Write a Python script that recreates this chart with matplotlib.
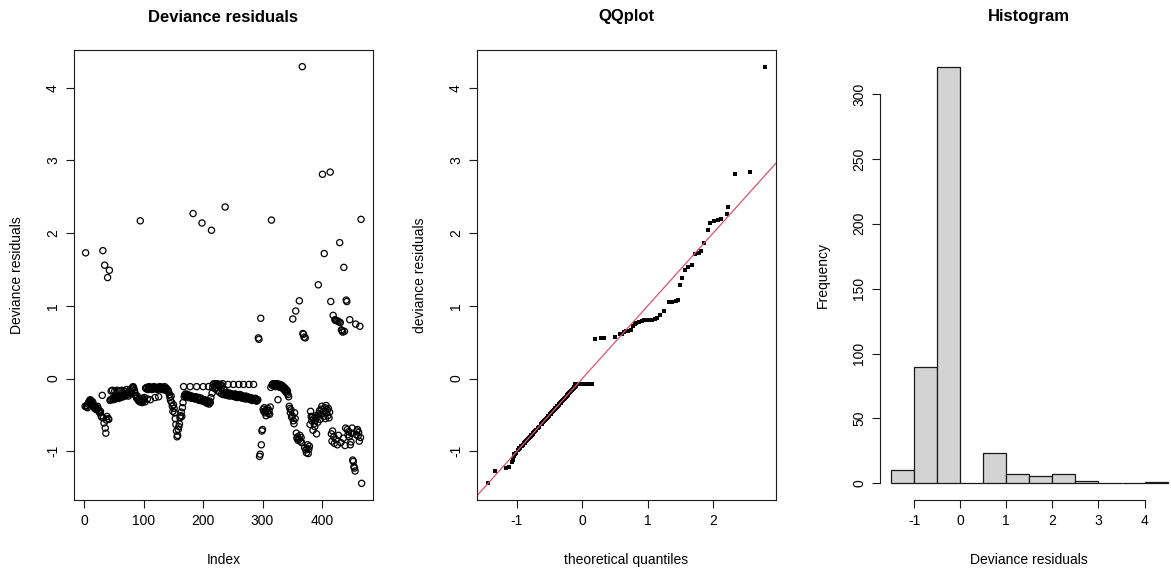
import numpy as np
import matplotlib
matplotlib.use("Agg")
import matplotlib.pyplot as plt

plt.rcParams["font.family"] = ["Liberation Sans", "DejaVu Sans"]
plt.rcParams["axes.unicode_minus"] = False

resid = np.array([
    -0.38, 1.73, -0.39, -0.37, -0.40, -0.35, -0.33, -0.31, -0.30, -0.29,
    -0.31, -0.33, -0.35, -0.32, -0.37, -0.39, -0.41, -0.38, -0.42, -0.40,
    -0.43, -0.38, -0.41, -0.44, -0.46, -0.47, -0.45, -0.51, -0.53, -0.23,
    1.76, -0.54, -0.61, 1.56, -0.68, -0.75, -0.57, -0.52, 1.39, -0.55,
    -0.56, 1.49, -0.30, -0.29, -0.17, -0.28, -0.16, -0.27, -0.29, -0.26,
    -0.17, -0.28, -0.25, -0.27, -0.16, -0.26, -0.24, -0.27, -0.17, -0.25,
    -0.26, -0.24, -0.16, -0.23, -0.25, -0.22, -0.17, -0.24, -0.21, -0.23,
    -0.15, -0.22, -0.20, -0.24, -0.19, -0.21, -0.15, -0.18, -0.20, -0.14,
    -0.12, -0.11, -0.13, -0.16, -0.19, -0.23, -0.25, -0.27, -0.24, -0.29,
    -0.30, -0.28, -0.32, 2.17, -0.31, -0.30, -0.33, -0.27, -0.31, -0.29,
    -0.26, -0.32, -0.13, -0.14, -0.12, -0.28, -0.15, -0.13, -0.11, -0.14,
    -0.29, -0.12, -0.13, -0.15, -0.12, -0.14, -0.11, -0.13, -0.26, -0.12,
    -0.14, -0.13, -0.15, -0.12, -0.25, -0.13, -0.11, -0.14, -0.12, -0.13,
    -0.15, -0.12, -0.14, -0.13, -0.11, -0.16, -0.14, -0.13, -0.15, -0.17,
    -0.16, -0.19, -0.22, -0.26, -0.30, -0.24, -0.33, -0.38, -0.45, -0.36,
    -0.41, -0.47, -0.55, -0.63, -0.72, -0.80, -0.78, -0.70, -0.66, -0.62,
    -0.54, -0.51, -0.46, -0.52, -0.40, -0.33, -0.11, -0.25, -0.22, -0.24,
    -0.21, -0.23, -0.25, -0.22, -0.26, -0.24, -0.23, -0.11, -0.25, -0.27,
    -0.24, -0.26, 2.27, -0.25, -0.27, -0.28, -0.26, -0.25, -0.11, -0.27,
    -0.29, -0.28, -0.26, -0.30, -0.28, -0.29, -0.27, 2.14, -0.31, -0.11,
    -0.30, -0.29, -0.32, -0.31, -0.33, -0.30, -0.34, -0.32, -0.11, -0.35,
    -0.31, -0.33, -0.26, 2.04, -0.20, -0.12, -0.08, -0.07, -0.10, -0.14,
    -0.07, -0.09, -0.12, -0.07, -0.17, -0.08, -0.11, -0.19, -0.08, -0.13,
    -0.21, -0.10, -0.07, -0.22, -0.15, -0.20, 2.36, -0.21, -0.23, -0.19,
    -0.22, -0.08, -0.21, -0.24, -0.20, -0.22, -0.23, -0.21, -0.24, -0.22,
    -0.08, -0.23, -0.25, -0.21, -0.24, -0.22, -0.26, -0.23, -0.25, -0.08,
    -0.24, -0.22, -0.26, -0.25, -0.23, -0.27, -0.24, -0.08, -0.26, -0.25,
    -0.28, -0.24, -0.27, -0.26, -0.25, -0.28, -0.08, -0.27, -0.29, -0.26,
    -0.28, -0.27, -0.30, -0.29, -0.08, -0.28, -0.30, -0.27, -0.29, -0.31,
    -0.30, -0.29, 0.56, 0.54, -1.07, -1.04, 0.83, -0.91, -0.72, -0.70,
    -0.42, -0.45, -0.40, -0.47, -0.44, -0.51, -0.43, -0.46, -0.41, -0.48,
    -0.44, -0.49, -0.39, -0.12, 2.18, -0.09, -0.08, -0.07, -0.10, -0.08,
    -0.07, -0.11, -0.08, -0.09, -0.07, -0.29, -0.08, -0.10, -0.12, -0.08,
    -0.11, -0.09, -0.13, -0.10, -0.14, -0.12, -0.16, -0.13, -0.18, -0.15,
    -0.20, -0.17, -0.22, -0.25, -0.38, -0.41, -0.47, -0.43, -0.53, -0.51,
    0.82, -0.58, -0.62, -0.47, -0.55, 0.93, -0.75, -0.82, -0.80, -0.85,
    -0.83, 1.07, -0.78, -0.86, -0.81, -0.88, 4.29, 0.62, 0.61, 0.57,
    -0.95, 0.56, -0.98, -1.02, -0.96, -0.91, -1.03, -0.97, -0.93, -0.63,
    -0.45, -0.52, -0.58, -0.53, -0.71, -0.55, -0.62, -0.66, -0.57, -0.51,
    -0.76, -0.53, -0.60, 1.29, -0.48, -0.44, -0.56, -0.49, -0.42, -0.38,
    2.81, -0.46, -0.52, 1.72, -0.40, -0.55, -0.37, -0.47, -0.43, -0.51,
    -0.41, -0.54, -0.46, 2.84, 1.06, -0.76, -0.86, -0.72, 0.87, -0.80,
    -0.89, 0.81, 0.80, -0.84, 0.80, -0.91, 0.79, -0.78, 0.78, 1.87,
    0.77, -0.88, 0.67, 0.66, 0.64, -0.82, 1.53, 0.65, -0.92, -0.68,
    1.08, 1.06, -0.70, -0.77, -0.73, -0.80, 0.81, -0.91, -0.87, -0.75,
    -0.68, -1.12, -1.14, -1.21, -1.23, -1.27, 0.75, -0.77, -0.72, -0.70,
    -0.79, -0.74, -0.86, 0.72, -0.81, 2.19, -1.44,
])
index = np.arange(1, len(resid) + 1)

qq_low_x = [-1.44, -1.34, -1.17, -1.12, -1.08, -1.06, -1.05, -1.04, -1.03, -1.02]
qq_flat_x = [-0.11, -0.10, -0.08, -0.07, -0.06, -0.04, -0.03, -0.02, 0.00, 0.01,
             0.02, 0.04, 0.05, 0.06, 0.08, 0.09, 0.10, 0.11, 0.13, 0.14, 0.15]
qq_pos_x = [0.19, 0.29, 0.34, 0.50, 0.58, 0.61, 0.64, 0.67, 0.70, 0.74,
            0.77, 0.80, 0.83, 0.87, 0.91, 0.95, 0.99, 1.03, 1.07, 1.11,
            1.15, 1.19, 1.25, 1.33, 1.38, 1.43, 1.47, 1.50, 1.52, 1.57,
            1.62, 1.68, 1.73, 1.78, 1.81, 1.87, 1.92, 1.95, 2.02, 2.07,
            2.13, 2.21, 2.23, 2.34, 2.57, 2.79]

hist_breaks = [-1.5, -1.0, -0.5, 0.0, 0.5, 1.0, 1.5, 2.0, 2.5, 3.0, 3.5, 4.0, 4.5]

srt = np.sort(resid)
low = srt[srt < -1.0]
flat = srt[(srt > -0.085) & (srt < 0)]
pos = srt[srt > 0]
body = srt[(srt >= -1.0) & (srt <= -0.085)]   # sits on the 1:1 line in the reference
qq_x = np.concatenate([qq_low_x, body, qq_flat_x, qq_pos_x])
qq_y = np.concatenate([low, body, flat, pos])

# --- layout (pixel positions of the R plot regions) ---
W, H = 1171, 572
fig = plt.figure(figsize=(W / 100, H / 100), dpi=100)
pw, ph = 298.7, 450
axes = [fig.add_axes([x0 / W, (H - 500) / H, pw / W, ph / H]) for x0 in (74, 477, 880)]
ax1, ax2, ax3 = axes

ink = "#1a1a1a"
fs = 10
ylo, yhi = resid.min(), resid.max()
ypad = 0.04 * (yhi - ylo)


def style(ax, title, xlabel, ylabel):
    ax.tick_params(direction="out", length=6, width=0.8, color=ink,
                   labelsize=fs, pad=4)
    for lab in ax.get_yticklabels():
        lab.set_rotation(90)
        lab.set_va("center")
    ax.text(0.5, 1 + 33 / ph, title, transform=ax.transAxes, ha="center",
            va="center", fontsize=12, fontweight="bold")
    ax.set_xlabel(xlabel, fontsize=fs)
    ax.set_ylabel(ylabel, fontsize=fs)
    ax.xaxis.label.set_va("center")
    ax.yaxis.label.set_va("center")
    ax.xaxis.set_label_coords(0.5, -60 / ph)
    ax.yaxis.set_label_coords(-57 / pw, 0.5)
    for sp in ax.spines.values():
        sp.set_color(ink)
        sp.set_linewidth(0.8)


# --- panel 1: residuals by index ---
ax1.scatter(index, resid, s=20, facecolors="none", edgecolors="black",
            linewidths=0.9)
n = len(resid)
ax1.set_xlim(1 - 0.04 * (n - 1), n + 0.04 * (n - 1))
ax1.set_ylim(ylo - ypad, yhi + ypad)
ax1.set_xticks([0, 100, 200, 300, 400])
ax1.set_yticks([-1, 0, 1, 2, 3, 4])
style(ax1, "Deviance residuals", "Index", "Deviance residuals")

# --- panel 2: QQ plot ---
ax2.plot(qq_x, qq_y, "s", color="black", markersize=3.0, markeredgewidth=0)
ax2.axline((0, 0), slope=1, color="#DF536B", lw=0.9)
xr = max(qq_x) - min(qq_x)
ax2.set_xlim(min(qq_x) - 0.04 * xr, max(qq_x) + 0.04 * xr)
ax2.set_ylim(ylo - ypad, yhi + ypad)
ax2.set_xticks([-1, 0, 1, 2])
ax2.set_yticks([-1, 0, 1, 2, 3, 4])
style(ax2, "QQplot", "theoretical quantiles", "deviance residuals")

# --- panel 3: histogram ---
counts, _, _ = ax3.hist(resid, bins=hist_breaks, color="#D3D3D3",
                        edgecolor=ink, linewidth=0.9)
ax3.set_xlim(-1.5 - 0.24, 4.5 + 0.24)
ax3.set_ylim(-0.04 * counts.max(), 1.04 * counts.max())
ax3.set_xticks([-1, 0, 1, 2, 3, 4])
ax3.set_yticks([0, 50, 100, 150, 200, 250, 300])
ax3.spines["top"].set_visible(False)
ax3.spines["right"].set_visible(False)
ax3.spines["bottom"].set_bounds(-1, 4)
ax3.spines["left"].set_bounds(0, 300)
style(ax3, "Histogram", "Deviance residuals", "Frequency")

fig.savefig("out.png", dpi=100)
